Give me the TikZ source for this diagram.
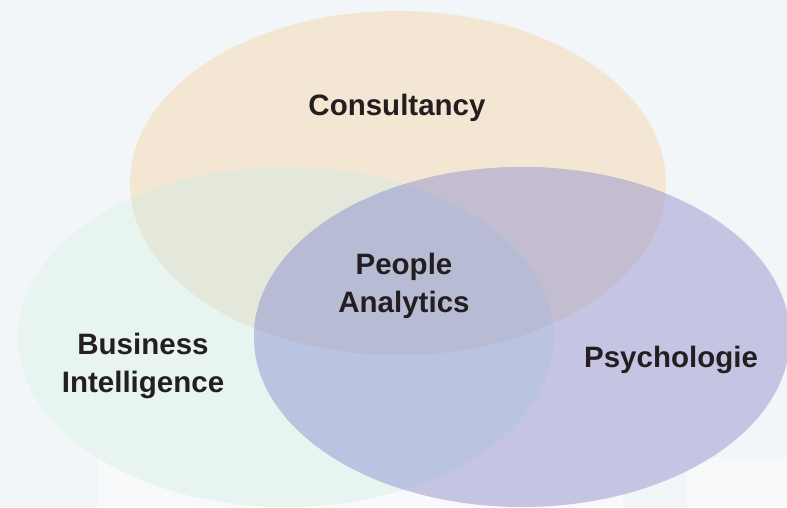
\documentclass[tikz,border=0pt]{standalone}
\usepackage{fontspec}
\setmainfont{Liberation Sans}
\usetikzlibrary{positioning}

\definecolor{bg}{HTML}{F2F6F9}
\definecolor{card}{HTML}{F8F9FB}
\definecolor{o1}{HTML}{F3E6D2}
\definecolor{g1}{HTML}{E7F4EF}
\definecolor{v1}{HTML}{C5C5E3}
\definecolor{og}{HTML}{E4E8DA}
\definecolor{ov}{HTML}{C4BCCF}
\definecolor{gv}{HTML}{BAC3DF}
\definecolor{ogv}{HTML}{B8BBD4}
\definecolor{b}{HTML}{231F20}

% the three sets
\newcommand{\ellT}{(398,183) ellipse [x radius=268pt, y radius=172pt]}
\newcommand{\ellL}{(286,337) ellipse [x radius=268pt, y radius=170pt]}
\newcommand{\ellR}{(522,337) ellipse [x radius=268pt, y radius=170pt]}

\begin{document}
\begin{tikzpicture}[x=1pt, y=-1pt,
    lbl/.style={text=b, font=\fontsize{29.5}{38}\selectfont\bfseries, align=center, inner sep=0pt, anchor=base}]
			% Background
			\useasboundingbox (0,0) rectangle (787,507);
			\fill[bg] (0,0) rectangle (787,507);
			\fill[card] (98,458) rectangle (787,507);
			\fill[bg] (623,470) rectangle (687,507);

			% Sets
			\fill[g1] \ellL;
			\fill[o1] \ellT;
			\fill[v1] \ellR;

			% Overlaps
			\begin{scope}
				\clip \ellT;
				\fill[og] \ellL;
				\fill[ov] \ellR;
			\end{scope}
			\begin{scope}
				\clip \ellL;
				\fill[gv] \ellR;
			\end{scope}
			\begin{scope}
				\clip \ellT;
				\clip \ellL;
				\fill[ogv] \ellR;
			\end{scope}

			% Labels (base = last line)
			\node[lbl] (cons) at (397,115) {Consultancy};
			\node[lbl] (people) at (404,312) {People\\Analytics};
			\node[lbl] (bi) at (143,392) {Business\\Intelligence};
			\node[lbl] (psy) at (671,367) {Psychologie};
		\end{tikzpicture}
\end{document}
